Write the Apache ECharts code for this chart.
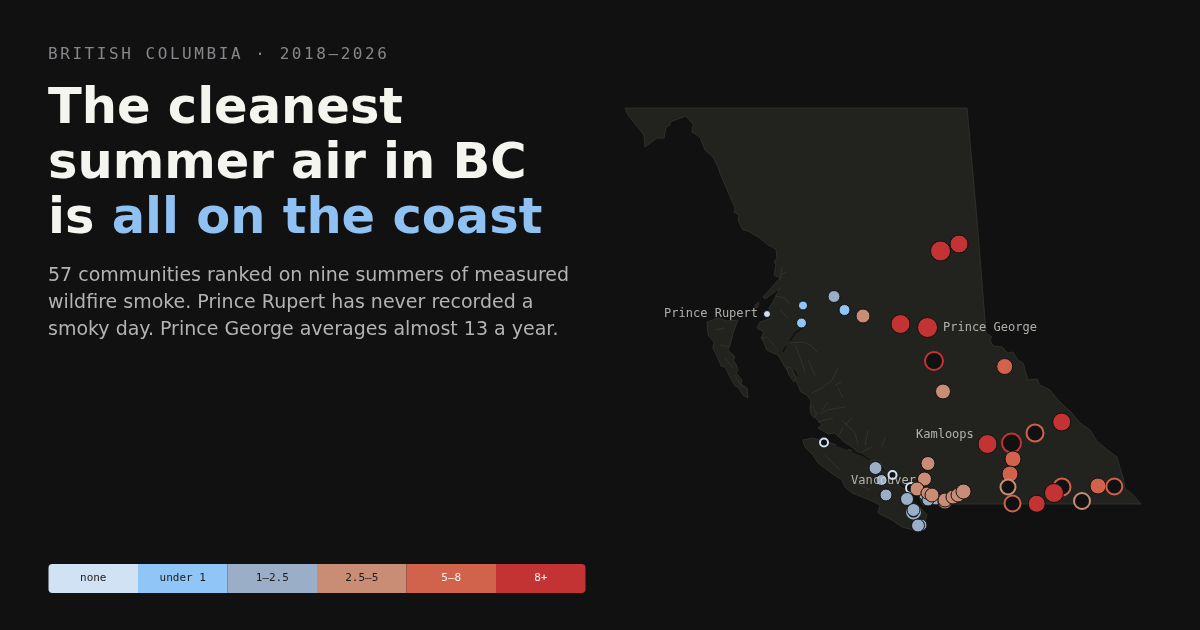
<!DOCTYPE html>
<html>
<head>
<meta charset="utf-8">
<title>The cleanest summer air in BC</title>
<style>
  html, body { margin: 0; padding: 0; background: #111111; }
  #chart { position: absolute; left: 0; top: 0; width: 1200px; height: 630px; }
  #kicker {
    position: absolute; left: 48px; top: 44px; z-index: 2;
    font: 16px/20px "DejaVu Sans Mono", monospace;
    letter-spacing: 2.56px; color: #85878a; white-space: nowrap;
  }
</style>
<script src="https://cdn.jsdelivr.net/npm/echarts@6/dist/echarts.min.js"></script>
</head>
<body>
<div id="kicker">BRITISH COLUMBIA · 2018—2026</div>
<div id="chart"></div>
<script>
// land shapes, in map units
const mainland = [[625,108],[967,108],[977,220],[986,333],[992,337],[990,340],[993,346],[1002,347],[1008,353],[1013,352],
  [1018,360],[1023,363],[1028,380],[1037,379],[1040,385],[1050,390],[1058,400],[1063,405],[1072,413],[1080,423],[1090,430],
  [1097,441],[1105,448],[1117,457],[1120,468],[1123,477],[1125,488],[1133,495],[1141,504],[937,504],[923,505],[918,495],
  [908,487],[893,483],[888,473],[878,460],[872,461],[865,457],[858,452],[852,447],[843,441],[835,433],[829,434],[825,432],
  [818,428],[822,425],[820,423],[815,417],[817,413],[810,408],[811,401],[807,395],[801,392],[798,385],[795,378],[790,376],
  [787,370],[785,367],[778,355],[772,352],[766,344],[761,338],[764,332],[757,328],[760,322],[772,318],
  [769,308],[773,302],[780,288],[765,299],[763,297],[780,278],[774,275],[776,265],[774,262],[777,258],[776,249],[768,245],
  [760,238],[748,231],[743,230],[738,220],[739,215],[734,212],[735,208],[720,173],[718,167],[713,157],[705,150],[700,137],
  [692,132],[693,124],[686,116],[670,122],[670,125],[666,127],[664,138],[657,138],[645,147],[644,135],[628,115]];
const vancouverIsland = [[803,440],[812,438],[828,442],[845,448],[858,453],[867,458],[873,463],[885,472],[898,485],[905,490],
  [910,500],[918,505],[927,515],[923,528],[918,531],[902,527],[892,520],[878,513],[880,505],[870,500],[852,493],[845,487],
  [842,480],[830,472],[818,463],[813,455],[805,447]];
const haidaGwaii = [[707,322],[718,318],[727,321],[738,320],[733,333],[731,342],[728,350],[735,357],[733,360],[736,364],[738,370],
  [736,373],[742,380],[741,384],[747,388],[748,398],[743,395],[738,387],[735,386],[730,377],[725,367],[721,366],[718,358],[713,348],[714,342],[708,335]];
const banksIsland = [[762,338],[767,337],[778,350],[775,354],[767,350]];
const princessRoyal = [[787,368],[790,367],[796,378],[794,382],[789,375]];
const calvertIsland = [[810,408],[813,406],[816,415],[814,418],[811,414]];
const smallIsland = [[755,305],[759,302],[758,307],[755,308]];
const landShapes = [mainland, vancouverIsland, haidaGwaii, banksIsland, princessRoyal, calvertIsland, smallIsland];

// inlets: pale ones are fjords, dark ones are open channels
const paleInlets = [
  [[782,267],[781,274],[780,280]], [[787,272],[780,275]], [[790,343],[803,342],[810,345],[817,352]],
  [[838,367],[835,375],[832,380],[822,388],[812,393]], [[842,382],[835,385]], [[838,388],[843,398]],
  [[828,402],[822,410]], [[845,407],[827,410],[820,414]], [[833,418],[818,422]], [[843,428],[838,437]],
  [[868,430],[865,445]], [[885,437],[882,447]], [[775,296],[785,298],[790,305]], [[780,310],[788,318]],
  [[795,345],[801,360],[805,372]], [[808,360],[815,375]], [[842,420],[855,433],[858,445]], [[852,418],[845,425]],
  [[862,452],[872,447]], [[825,455],[840,470]], [[850,480],[870,490]],
  [[716,330],[724,328]], [[720,345],[730,347]], [[725,358],[733,368]], [[735,375],[742,388]]];
const darkChannels = [
  [[802,328],[795,333],[790,341]], [[786,346],[783,352]], [[836,445],[848,449]], [[852,451],[862,455],[870,460]],
  [[892,480],[905,487]], [[794,370],[797,376]]];

// communities: x, y and dot radius, in drawing order
const placeX = [803,801.5,844.5,834,863,824,892.5,911,875.5,881.5,886,907,913.5,913.5,921,918,930,925,936,928,
  945,945,928,924.5,917,927,932,953,958,963.5,940.5,959,900.5,927.5,934,1004.7,943,987.5,1011.5,1035,1061.7,1013,1010,
  1008,1012.5,1036.7,1062,1054,1082,1098,1114.3,767];
const placeY = [305.5,323,310,296.5,316,442.5,475,488,468,480,495,499,512,510,525,525.5,497,495,499,500,
  502,500,463.5,479,489,493,495,497,495,491.5,251,244,324,327.5,361,366.5,391.5,444,443,433,422,459,474,
  487,503.5,503.7,487,493,501,486,486.5,314];
const placeR = [4.5,5,5.5,6,7,4,4,5,6.5,5.5,6,6.5,6.5,6.5,6,6.5,6,6,6,6,
  7,7,7,7,7,6,7,7,7,7.5,10,9,9.5,10,9,8,7.5,9.5,9.5,8.5,9,8,8,
  7.5,8,8.5,8.5,9.5,8,8,8,3.5];
const placeBin = [1,1,1,2,3,0,0,0,2,2,2,2,2,2,2,2,2,2,2,2,
  3,3,3,3,3,3,3,3,3,3,5,5,5,5,5,4,3,5,5,4,5,4,4,
  3,4,5,4,5,3,4,4,0];
const placeOpen = [0,0,0,0,0,1,1,1,0,0,0,0,1,0,0,0,0,0,0,0,
  0,0,0,0,0,0,0,0,0,0,0,0,0,0,1,0,0,0,1,1,0,0,0,
  1,1,0,1,0,1,0,1,0];

const cityNames = ['Prince Rupert', 'Prince George', 'Kamloops', 'Vancouver'];
const cityX = [761, 940, 913, 848];
const cityY = [314, 328, 435, 481];
const cityLabelSide = ['left', 'right', 'right', 'right'];

const binLabels = ['none', 'under 1', '1–2.5', '2.5–5', '5–8', '8+'];
const binColors = ['#d0e2f4', '#8fc5f7', '#9aaec8', '#c98c75', '#d1634d', '#c43333'];
const binTextColors = ['#1c1c1c', '#1c1c1c', '#1c1c1c', '#1c1c1c', '#f5f5f2', '#f5f5f2'];
const binShare = [1, 1, 1, 1, 1, 1];

const BG = '#111111';
const MONO = '"DejaVu Sans Mono", monospace';
const SANS = '"DejaVu Sans", sans-serif';

const chart = echarts.init(document.getElementById('chart'));

const places = placeX.map(function (x, i) {
    return {
        value: [x, placeY[i], placeR[i]],
        itemStyle: placeOpen[i]
            ? { color: BG, borderColor: binColors[placeBin[i]], borderWidth: 2, opacity: 1 }
            : { color: binColors[placeBin[i]], borderColor: BG, borderWidth: 1, opacity: 1 }
    };
});

// land, then pale inlets, then dark channels, all through the map axes
const shapeRows = [];
landShapes.forEach(function (s) { shapeRows.push({ kind: 'land', points: s }); });
paleInlets.forEach(function (s) { shapeRows.push({ kind: 'pale', points: s }); });
darkChannels.forEach(function (s) { shapeRows.push({ kind: 'dark', points: s }); });

function renderShape(params, api) {
    const row = shapeRows[params.dataIndex];
    const points = row.points.map(function (p) { return api.coord(p); });
    if (row.kind === 'land') {
        return {
            type: 'polygon',
            shape: { points: points },
            style: { fill: '#22221e', stroke: '#2f2f2a', lineWidth: 1 }
        };
    }
    return {
        type: 'polyline',
        shape: { points: points },
        style: {
            fill: null,
            stroke: row.kind === 'pale' ? '#32322d' : BG,
            lineWidth: row.kind === 'pale' ? 1 : 1.4
        }
    };
}

const binSeries = binLabels.map(function (label, i) {
    const lastIndex = binLabels.length - 1;
    return {
        type: 'bar',
        name: label,
        stack: 'bins',
        xAxisIndex: 1,
        yAxisIndex: 1,
        barWidth: '100%',
        silent: true,
        data: [binShare[i]],
        itemStyle: {
            color: binColors[i],
            borderRadius: i === 0 ? [4, 0, 0, 4] : i === lastIndex ? [0, 4, 4, 0] : 0
        },
        label: {
            show: true,
            position: 'inside',
            formatter: label,
            fontFamily: MONO,
            fontSize: 11,
            color: binTextColors[i]
        }
    };
});

const option = {
    backgroundColor: BG,
    animation: false,
    title: [{
        left: 48,
        top: 83,
        padding: 0,
        text: '{w|The cleanest}\n{w|summer air in BC}\n{w|is }{b|all on the coast}',
        textStyle: {
            rich: {
                w: { fontFamily: SANS, fontWeight: 'bold', fontSize: 49.5, lineHeight: 55, color: '#f5f5f0' },
                b: { fontFamily: SANS, fontWeight: 'bold', fontSize: 49.5, lineHeight: 55, color: '#8fc1f2' }
            }
        }
    }, {
        left: 48,
        top: 263,
        padding: 0,
        text: '57 communities ranked on nine summers of measured\nwildfire smoke. Prince Rupert has never recorded a\nsmoky day. Prince George averages almost 13 a year.',
        textStyle: { fontFamily: SANS, fontWeight: 'normal', fontSize: 19, lineHeight: 27, color: '#b2b3b3' }
    }],
    grid: [
        { left: 0, top: 0, width: 1200, height: 630 },
        { left: 48.5, top: 564, width: 537, height: 29 }
    ],
    xAxis: [
        { type: 'value', min: 0, max: 1200, show: false },
        { type: 'value', gridIndex: 1, min: 0, max: 6, show: false }
    ],
    yAxis: [
        { type: 'value', min: 0, max: 630, inverse: true, show: false },
        { type: 'category', gridIndex: 1, data: ['days'], show: false }
    ],
    series: [{
        type: 'custom',
        silent: true,
        renderItem: renderShape,
        data: shapeRows.map(function (r, i) { return i; }),
        z: 1
    }, {
        type: 'scatter',
        silent: true,
        data: places,
        symbolSize: function (v) { return v[2] * 2; },
        z: 3
    }, {
        type: 'scatter',
        silent: true,
        symbolSize: 0,
        z: 5,
        data: cityNames.map(function (name, i) {
            return {
                name: name,
                value: [cityX[i], cityY[i]],
                label: { position: cityLabelSide[i] }
            };
        }),
        label: {
            show: true,
            distance: 3,
            formatter: '{b}',
            fontFamily: MONO,
            fontSize: 12,
            color: '#d4d4d0'
        }
    }].concat(binSeries)
};

chart.setOption(option);
</script>
</body>
</html>
